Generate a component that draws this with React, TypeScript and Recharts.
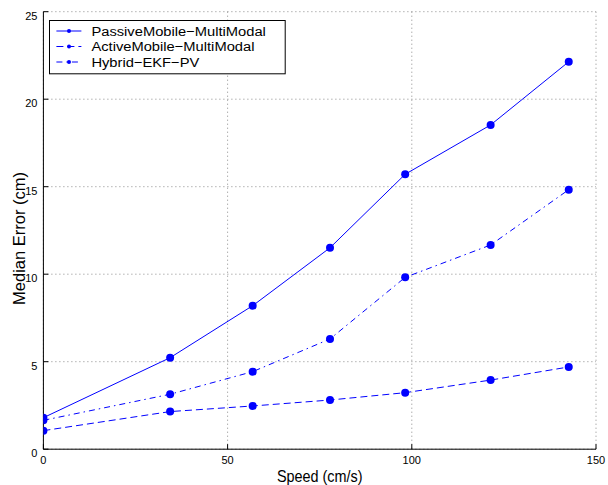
import React from 'react';
import { LineChart, Line, XAxis, YAxis, CartesianGrid, Legend } from 'recharts';

const speed = [0, 34.4, 56.8, 77.8, 98.2, 121.4, 142.6];
const passive = [1.8, 5.23, 8.2, 11.51, 15.71, 18.53, 22.14];
const active = [1.06, 2.15, 2.47, 2.81, 3.23, 3.95, 4.7];
const hybrid = [1.65, 3.14, 4.43, 6.3, 9.82, 11.67, 14.83];
const seriesNames = ['PassiveMobile−MultiModal', 'ActiveMobile−MultiModal', 'Hybrid−EKF−PV'];
const xTicks = [0, 50, 100, 150];
const yTicks = [0, 5, 10, 15, 20, 25];
const xLabel = 'Speed (cm/s)';
const yLabel = 'Median Error (cm)';

const data = speed.map((s, i) => ({ speed: s, passive: passive[i], active: active[i], hybrid: hybrid[i] }));

const BLUE = '#0000ff';
const FONT = '"Liberation Sans", Arial, Helvetica, sans-serif';
const TICK_LEN = 5;
const X_MARGIN = 8;
const Y_MARGIN = 6;

const series = [
  { key: 'passive', name: seriesNames[0], dash: undefined as string | undefined },
  { key: 'active', name: seriesNames[1], dash: '7 4' },
  { key: 'hybrid', name: seriesNames[2], dash: '6 4 1.5 4' },
];

const BottomTick = (props: any) => {
  const { x, y, payload } = props;
  const axisY = y - X_MARGIN;
  return (
    <g>
      <line x1={x} x2={x} y1={axisY} y2={axisY - TICK_LEN} stroke="#000" strokeWidth={1} />
      <text x={x} y={axisY + 15} textAnchor="middle" fontSize={11} fontFamily={FONT} fill="#000">
        {payload.value}
      </text>
    </g>
  );
};

const LeftTick = (props: any) => {
  const { x, y, payload } = props;
  const axisX = x + Y_MARGIN;
  return (
    <g>
      <line x1={axisX} x2={axisX + TICK_LEN} y1={y} y2={y} stroke="#000" strokeWidth={1} />
      <text x={x} y={y + 8} textAnchor="end" fontSize={11} fontFamily={FONT} fill="#000">
        {payload.value}
      </text>
    </g>
  );
};

const TopTick = (props: any) => {
  const { x, y } = props;
  return <line x1={x} x2={x} y1={y} y2={y + TICK_LEN} stroke="#000" strokeWidth={1} />;
};

const RightTick = (props: any) => {
  const { x, y } = props;
  return <line x1={x} x2={x - TICK_LEN} y1={y} y2={y} stroke="#000" strokeWidth={1} />;
};

const XLabel = (props: any) => {
  const vb = props.viewBox || {};
  const cx = vb.x + vb.width / 2;
  const by = vb.y + 33;
  return (
    <text
      transform={`translate(${cx},${by}) scale(0.9,1)`}
      x={0}
      y={0}
      textAnchor="middle"
      fontSize={16}
      fontFamily={FONT}
      fill="#000"
    >
      {xLabel}
    </text>
  );
};

const YLabel = (props: any) => {
  const vb = props.viewBox || {};
  const cx = vb.x + 19;
  const cy = vb.y + vb.height / 2 + 8;
  return (
    <text
      transform={`translate(${cx},${cy}) rotate(-90)`}
      x={0}
      y={0}
      textAnchor="middle"
      dominantBaseline="central"
      fontSize={16.5}
      fontFamily={FONT}
      fill="#000"
    >
      {yLabel}
    </text>
  );
};

const LegendBox = () => (
  <svg width={237} height={55} style={{ display: 'block' }}>
    <rect x={0.5} y={0.5} width={235.7} height={53.3} fill="#fff" stroke="#000" strokeWidth={1} />
    {series.map((s, i) => {
      const cy = 11 + i * 15.5;
      return (
        <g key={s.key}>
          <line x1={7.4} x2={32.4} y1={cy} y2={cy} stroke={BLUE} strokeWidth={1} strokeDasharray={s.dash} />
          <circle cx={20} cy={cy} r={2} fill={BLUE} />
          <text
            transform={`translate(42.4,${cy}) scale(1.09,1)`}
            x={0}
            y={0}
            dominantBaseline="central"
            fontSize={13.5}
            fontFamily={FONT}
            fill="#000"
          >
            {s.name}
          </text>
        </g>
      );
    })}
  </svg>
);

export default function App() {
  return (
    <div style={{ position: 'absolute', left: 0, top: 0, width: 608, height: 485, background: '#fff' }}>
      <LineChart width={608} height={485} data={data} margin={{ top: 11.7, right: 12, left: 0, bottom: 0 }}>
        <CartesianGrid stroke="#8a8a8a" strokeDasharray="1 3" strokeWidth={1} />
        <XAxis
          dataKey="speed"
          type="number"
          domain={[0, 150]}
          ticks={xTicks}
          height={35.8}
          tickSize={0}
          tickMargin={X_MARGIN}
          tickLine={false}
          axisLine={{ stroke: '#000', strokeWidth: 1 }}
          tick={<BottomTick />}
          interval={0}
          allowDataOverflow
          label={XLabel}
        />
        <XAxis
          xAxisId="top"
          orientation="top"
          dataKey="speed"
          type="number"
          domain={[0, 150]}
          ticks={xTicks}
          height={0}
          tickSize={0}
          tickMargin={0}
          tickLine={false}
          axisLine={{ stroke: '#000', strokeWidth: 1 }}
          tick={<TopTick />}
          interval={0}
        />
        <YAxis
          type="number"
          domain={[0, 25]}
          ticks={yTicks}
          width={43.4}
          tickSize={0}
          tickMargin={Y_MARGIN}
          tickLine={false}
          axisLine={{ stroke: '#000', strokeWidth: 1 }}
          tick={<LeftTick />}
          interval={0}
          allowDataOverflow
          label={YLabel}
        />
        <YAxis
          yAxisId="right"
          orientation="right"
          type="number"
          domain={[0, 25]}
          ticks={yTicks}
          width={0}
          tickSize={0}
          tickMargin={0}
          tickLine={false}
          axisLine={{ stroke: '#000', strokeWidth: 1 }}
          tick={<RightTick />}
          interval={0}
        />
        {series.map((s) => (
          <Line
            key={s.key}
            type="linear"
            dataKey={s.key}
            name={s.name}
            stroke={BLUE}
            strokeWidth={1}
            strokeDasharray={s.dash}
            dot={{ r: 4, fill: BLUE, stroke: 'none', strokeDasharray: undefined }}
            activeDot={false}
            isAnimationActive={false}
          />
        ))}
        <Legend
          layout="vertical"
          align="center"
          verticalAlign="middle"
          wrapperStyle={{ position: 'absolute', left: 49, top: 20, width: 237, height: 55, margin: 0, padding: 0 }}
          content={() => <LegendBox />}
        />
      </LineChart>
    </div>
  );
}
